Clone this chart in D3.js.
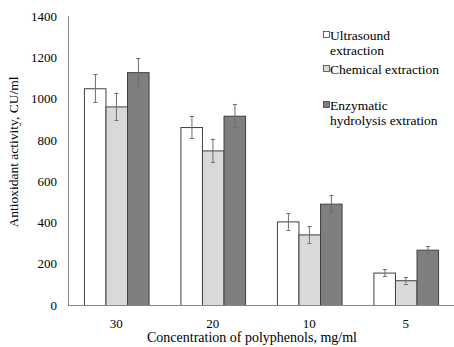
<!DOCTYPE html>
<html><head><meta charset="utf-8">
<script src="https://cdn.jsdelivr.net/npm/d3@7"></script>
<style>body{margin:0;background:#fff}svg{display:block}</style>
</head><body>
<script>
const categories = ["30", "20", "10", "5"];
const seriesNames = ["Ultrasound extraction", "Chemical extraction", "Enzymatic hydrolysis extration"];
const ultrasound = [1050, 862, 405, 157];
const chemical = [962, 749, 342, 120];
const enzymatic = [1128, 917, 491, 268];
const ultrasoundErr = [68, 55, 40, 17];
const chemicalErr = [67, 57, 40, 16];
const enzymaticErr = [68, 57, 41, 16];
const yTicks = [0, 200, 400, 600, 800, 1000, 1200, 1400];

const W = 454, H = 347;
const margin = {left: 68, top: 16, bottom: 42};
const plotRight = 454;
const colors = ["#ffffff", "#d9d9d9", "#7f7f7f"];
const series = [ultrasound, chemical, enzymatic];
const errs = [ultrasoundErr, chemicalErr, enzymaticErr];

const svg = d3.select("body").append("svg").attr("width", W).attr("height", H);
const x = d3.scaleBand().domain(categories).range([margin.left, 454]).paddingInner(0.33).paddingOuter(0.165);
const xs = d3.scaleBand().domain([0,1,2]).range([0, x.bandwidth()]);
const y = d3.scaleLinear().domain([0, 1400]).range([H - margin.bottom, margin.top]);
const font = "'Liberation Serif', 'Times New Roman', serif";

// bars
const groups = svg.selectAll("g.grp").data(categories).join("g").attr("class","grp")
  .attr("transform", d => `translate(${x(d)},0)`);
series.forEach((s, si) => {
  groups.append("rect")
    .attr("x", (d,i) => xs(si) + 0.5)
    .attr("y", (d,i) => y(s[i]) + 0.5)
    .attr("width", xs.bandwidth())
    .attr("height", (d,i) => y(0) - y(s[i]))
    .attr("fill", colors[si]).attr("stroke", "#404040").attr("stroke-width", 1);
});
// error bars
series.forEach((s, si) => {
  groups.each(function(d, i) {
    const g = d3.select(this);
    const cx = Math.round(xs(si) + xs.bandwidth()/2) + 0.5;
    const top = y(s[i] + errs[si][i]), bot = y(s[i] - errs[si][i]);
    g.append("line").attr("x1", cx).attr("x2", cx).attr("y1", top).attr("y2", bot).attr("stroke", "#6e6e6e").attr("stroke-width", 1);
    [top, bot].forEach(v => g.append("line").attr("x1", cx-2).attr("x2", cx+2).attr("y1", Math.round(v)+0.5).attr("y2", Math.round(v)+0.5).attr("stroke", "#6e6e6e").attr("stroke-width", 1));
  });
});

// axes
svg.append("line").attr("x1", margin.left+0.5).attr("x2", margin.left+0.5).attr("y1", y(1400)).attr("y2", y(0)).attr("stroke", "#868686");
svg.append("line").attr("x1", margin.left).attr("x2", plotRight).attr("y1", y(0)+0.5).attr("y2", y(0)+0.5).attr("stroke", "#868686");

const yAxis = svg.append("g").attr("transform", `translate(${margin.left},0)`).attr("font-family", font)
  .call(d3.axisLeft(y).tickValues(yTicks).tickFormat(d3.format("d")).tickSize(0).tickPadding(11));
yAxis.attr("font-family", font).attr("font-size", 13);
yAxis.select(".domain").remove();
yAxis.selectAll("text").attr("font-family", font).attr("font-size", 13).attr("fill", "#000");

const xAxis = svg.append("g").attr("transform", `translate(0,${y(0)})`)
  .call(d3.axisBottom(x).tickSize(0).tickPadding(14));
xAxis.attr("font-family", font).attr("font-size", 13);
xAxis.select(".domain").remove();
xAxis.selectAll("text").attr("font-family", font).attr("font-size", 13).attr("fill", "#000");

// titles
svg.append("text").attr("transform", `translate(18,152) rotate(-90)`).attr("text-anchor","middle")
  .attr("font-family", font).attr("font-size", 13.5).text("Antioxidant activity, CU/ml");
svg.append("text").attr("x", 252).attr("y", 342).attr("text-anchor","middle")
  .attr("font-family", font).attr("font-size", 14).text("Concentration of polyphenols, mg/ml");

// legend
const legendLines = [["Ultrasound", "extraction"], ["Chemical extraction"], ["Enzymatic", "hydrolysis extration"]];
const legendY = [40, 74, 110];
legendLines.forEach((lines, i) => {
  svg.append("rect").attr("x", 323.5).attr("y", legendY[i] - 8.5).attr("width", 6).attr("height", 6)
    .attr("fill", colors[i]).attr("stroke", "#404040").attr("stroke-width", 0.8);
  const t = svg.append("text").attr("font-family", font).attr("font-size", 13.5).attr("fill", "#000");
  lines.forEach((ln, k) => t.append("tspan").attr("x", 330).attr("y", legendY[i] + k*14.5).text(ln));
});
</script>
</body></html>
